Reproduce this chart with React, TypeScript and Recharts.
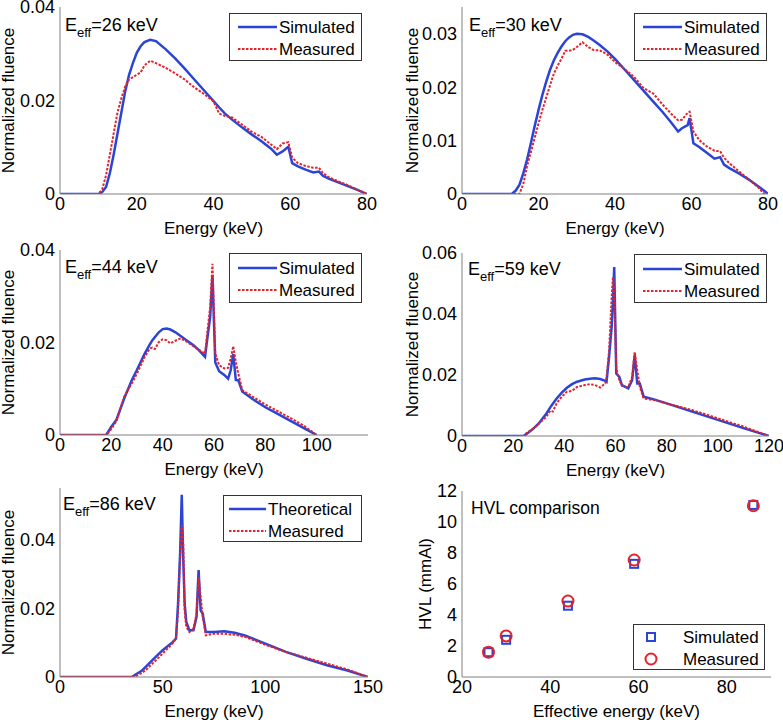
import React from 'react';
import { LineChart, Line, ScatterChart, Scatter, XAxis, YAxis, Legend } from 'recharts';

const FONT = '"Liberation Sans", Arial, Helvetica, sans-serif';
const BLUE = '#2b44d6';
const RED = '#e3232c';
const FRAME = '#808080';

// ---- E_eff = 26 keV ----
const e26 = [0, 10, 11, 12, 13, 14, 15, 16, 17, 18, 19, 20, 21, 22, 23.5, 25, 27.5, 30, 32.5, 35, 37.5, 40, 41.5, 43, 45, 47.5, 50, 52.5, 55, 56.5, 58, 59.5, 60.5, 62, 64, 66, 67.5, 68.5, 70, 72.5, 75, 77.5, 80];
const sim26 = [0, 0, 0.0004, 0.0015, 0.0045, 0.0085, 0.013, 0.0175, 0.022, 0.0255, 0.028, 0.0302, 0.0316, 0.0325, 0.033, 0.0327, 0.031, 0.029, 0.0268, 0.0245, 0.0222, 0.0199, 0.0185, 0.0172, 0.0158, 0.0142, 0.0127, 0.0113, 0.0097, 0.0084, 0.0091, 0.0101, 0.0066, 0.0059, 0.0052, 0.0046, 0.0048, 0.0039, 0.0033, 0.0025, 0.0017, 0.0009, 0];
const meas26 = [0, 0, 0.001, 0.004, 0.0085, 0.013, 0.0175, 0.0205, 0.023, 0.0245, 0.025, 0.0255, 0.026, 0.0275, 0.0285, 0.028, 0.027, 0.0258, 0.0245, 0.0228, 0.0214, 0.0198, 0.0172, 0.0167, 0.0163, 0.0148, 0.0133, 0.0122, 0.0106, 0.0096, 0.0108, 0.0111, 0.0078, 0.0066, 0.006, 0.0056, 0.0056, 0.0045, 0.0036, 0.0027, 0.0019, 0.0009, 0];

// ---- E_eff = 30 keV ----
const e30 = [0, 13, 14, 15, 16, 17, 18, 19, 20, 21, 22, 23, 24, 25, 26, 27, 28, 29, 30, 31.5, 33, 34.5, 36, 38, 40, 42.5, 45, 47.5, 50, 52.5, 55, 56.5, 57.5, 59, 59.5, 60.5, 62, 64, 66, 67.5, 68.5, 70, 72.5, 75, 77.5, 79, 80];
const sim30 = [0, 0, 0.0006, 0.0017, 0.0038, 0.0064, 0.0095, 0.0127, 0.0157, 0.0185, 0.021, 0.0232, 0.025, 0.0264, 0.0276, 0.0286, 0.0293, 0.0298, 0.03, 0.0299, 0.0294, 0.0287, 0.0279, 0.0267, 0.0253, 0.0233, 0.0213, 0.0193, 0.0173, 0.0153, 0.0131, 0.0117, 0.0123, 0.0129, 0.0142, 0.0095, 0.0088, 0.0077, 0.0066, 0.0069, 0.0055, 0.0048, 0.0038, 0.0027, 0.0014, 0.0006, 0];
const meas30 = [0, 0, 0, 0, 0.0018, 0.0052, 0.0078, 0.0105, 0.0132, 0.0157, 0.018, 0.0203, 0.0225, 0.024, 0.0253, 0.0268, 0.0268, 0.027, 0.0275, 0.0284, 0.0275, 0.0269, 0.0269, 0.0261, 0.0247, 0.0234, 0.0219, 0.0198, 0.0188, 0.0167, 0.0148, 0.0138, 0.0139, 0.0152, 0.0154, 0.0117, 0.0101, 0.0089, 0.0081, 0.008, 0.0068, 0.0057, 0.0042, 0.0027, 0.0012, 0, 0];

// ---- E_eff = 44 keV ----
const e44 = [0, 18, 20, 22, 25, 28, 30, 33, 35, 36, 37, 38.5, 40, 41.5, 43, 45, 47, 49, 52, 54, 56.5, 57.5, 58.5, 59.4, 60.5, 62, 64, 65.5, 66.5, 67.5, 68.5, 69.5, 71, 75, 80, 85, 90, 95, 100];
const sim44 = [0, 0, 0.0018, 0.0033, 0.0079, 0.0119, 0.0141, 0.0176, 0.0196, 0.0205, 0.0212, 0.0222, 0.0229, 0.023, 0.0228, 0.0222, 0.0214, 0.0206, 0.0194, 0.0184, 0.0169, 0.0213, 0.0255, 0.0345, 0.0157, 0.0138, 0.013, 0.0122, 0.014, 0.0175, 0.0119, 0.0118, 0.0094, 0.0078, 0.006, 0.0045, 0.003, 0.0015, 0];
const meas44 = [0, 0, 0.0013, 0.003, 0.0083, 0.0112, 0.0133, 0.0169, 0.0187, 0.0189, 0.0186, 0.0201, 0.0207, 0.0205, 0.0198, 0.0204, 0.0209, 0.0203, 0.0192, 0.0185, 0.0176, 0.0227, 0.0277, 0.037, 0.0176, 0.0151, 0.0144, 0.0145, 0.0165, 0.0192, 0.0158, 0.0132, 0.0097, 0.0083, 0.0066, 0.0051, 0.0036, 0.002, 0];

// ---- E_eff = 59 keV ----
const e59 = [0, 24, 25, 28, 30, 33, 34.5, 35.5, 37, 39, 41, 43, 45, 48, 50, 52, 54, 56, 56.5, 57.5, 58.5, 59, 59.5, 60.3, 61.5, 62.5, 64, 65, 66.5, 67.5, 68.5, 69.5, 71, 75, 80, 90, 100, 110, 120];
const sim59 = [0, 0, 0.0005, 0.0025, 0.0041, 0.0074, 0.0094, 0.0106, 0.0123, 0.0142, 0.0158, 0.017, 0.0178, 0.0185, 0.0188, 0.0189, 0.0187, 0.0181, 0.0178, 0.026, 0.0358, 0.044, 0.0554, 0.0205, 0.0194, 0.0167, 0.016, 0.0156, 0.0183, 0.0265, 0.0172, 0.0172, 0.0129, 0.012, 0.0107, 0.008, 0.0053, 0.0026, 0];
const meas59 = [0, 0, 0.0008, 0.0025, 0.004, 0.0063, 0.0083, 0.008, 0.0107, 0.0129, 0.0145, 0.0148, 0.0161, 0.0167, 0.017, 0.0167, 0.0159, 0.0172, 0.019, 0.028, 0.0456, 0.0521, 0.047, 0.022, 0.0183, 0.0165, 0.0161, 0.0161, 0.0194, 0.0276, 0.0216, 0.0161, 0.0123, 0.0118, 0.0107, 0.0085, 0.0058, 0.0031, 0];

// ---- E_eff = 86 keV ----
const e86 = [0, 35, 37, 40, 42, 45, 50, 55, 56.5, 57.5, 58.5, 59.3, 60, 60.7, 61.5, 63, 65, 66.5, 67.5, 68.5, 69.5, 71, 75, 80, 85, 90, 100, 110, 120, 130, 140, 150];
const theo86 = [0, 0, 0.0008, 0.0019, 0.0031, 0.0049, 0.0078, 0.0102, 0.0112, 0.0214, 0.036, 0.053, 0.035, 0.0214, 0.016, 0.0136, 0.0136, 0.0175, 0.0311, 0.0194, 0.0184, 0.0131, 0.0131, 0.0133, 0.0129, 0.0121, 0.0097, 0.0073, 0.0053, 0.0034, 0.0019, 0];
const meas86 = [0, 0, 0.0003, 0.0012, 0.0021, 0.0039, 0.0068, 0.0099, 0.0112, 0.0194, 0.035, 0.0442, 0.0388, 0.0194, 0.0146, 0.0131, 0.0141, 0.0184, 0.0291, 0.0233, 0.0175, 0.0121, 0.0126, 0.0126, 0.0123, 0.0117, 0.0094, 0.0073, 0.0056, 0.0039, 0.0022, 0];

// ---- HVL comparison ----
const hvlEnergy = [26, 30, 44, 59, 86];
const hvlSim = [1.6, 2.4, 4.6, 7.3, 11.1];
const hvlMeas = [1.6, 2.65, 4.9, 7.55, 11.05];

// ticks (all tick marks) and the ones that carry a label
const ticks80 = [0, 10, 20, 30, 40, 50, 60, 70, 80];
const labels80 = [0, 20, 40, 60, 80];
const ticks120 = [0, 10, 20, 30, 40, 50, 60, 70, 80, 90, 100, 110, 120];
const labels100 = [0, 20, 40, 60, 80, 100];
const labels120 = [0, 20, 40, 60, 80, 100, 120];
const ticks150 = [0, 10, 20, 30, 40, 50, 60, 70, 80, 90, 100, 110, 120, 130, 140, 150];
const labels150 = [0, 50, 100, 150];
const ticksY04 = [0, 0.01, 0.02, 0.03, 0.04];
const labelsY04 = [0, 0.02, 0.04];
const ticksY035 = [0, 0.005, 0.01, 0.015, 0.02, 0.025, 0.03, 0.035];
const labelsY035 = [0, 0.01, 0.02, 0.03];
const ticksY06 = [0, 0.01, 0.02, 0.03, 0.04, 0.05, 0.06];
const labelsY06 = [0, 0.02, 0.04, 0.06];
const ticksY055 = [0, 0.01, 0.02, 0.03, 0.04, 0.05];
const hvlTicksX = [20, 30, 40, 50, 60, 70, 80, 90];
const hvlLabelsX = [20, 40, 60, 80];
const hvlTicksY = [0, 1, 2, 3, 4, 5, 6, 7, 8, 9, 10, 11, 12];
const hvlLabelsY = [0, 2, 4, 6, 8, 10, 12];

const rows = (e: number[], a: number[], b: number[]) => e.map((v, i) => ({ e: v, a: a[i], b: b[i] }));
const points = (x: number[], y: number[]) => x.map((v, i) => ({ x: v, y: y[i] }));

const only = (labels: number[]) => (v: number) => (labels.some((l) => Math.abs(l - v) < 1e-9) ? String(v) : '');

const tickText = { fill: '#000', fontSize: 18, fontFamily: FONT };

type Item = { name: string; kind: 'solid' | 'dash' | 'square' | 'circle' };

const legendBox = (items: Item[], sample: [number, number], textX: number, rowY: number[]) => () => (
  <div style={{ position: 'relative', width: '100%', height: '100%', boxSizing: 'border-box', border: '1px solid #333', background: '#fff' }}>
    <svg width="100%" height="100%" style={{ position: 'absolute', left: 0, top: 0 }}>
      {items.map((it, i) => {
        const y = rowY[i];
        const mid = (sample[0] + sample[1]) / 2;
        return (
          <g key={it.name}>
            {it.kind === 'solid' && <line x1={sample[0]} x2={sample[1]} y1={y} y2={y} stroke={BLUE} strokeWidth={2.5} />}
            {it.kind === 'dash' && <line x1={sample[0]} x2={sample[1]} y1={y} y2={y} stroke={RED} strokeWidth={2} strokeDasharray="2.5 1.5" />}
            {it.kind === 'square' && <rect x={mid - 4} y={y - 4} width={8} height={8} fill="none" stroke={BLUE} strokeWidth={2} />}
            {it.kind === 'circle' && <circle cx={mid} cy={y} r={5.5} fill="none" stroke={RED} strokeWidth={2} />}
            <text x={textX} y={y} dominantBaseline="central" fontSize={17} fontFamily={FONT} fill="#000">
              {it.name}
            </text>
          </g>
        );
      })}
    </svg>
  </div>
);

type PanelProps = {
  box: { left: number; top: number; width: number; height: number };
  plot: { top: number; right: number; yw: number; xh: number };
  xDomain: [number, number];
  xTicks: number[];
  xLabels: number[];
  yDomain: [number, number];
  yTicks: number[];
  yLabels: number[];
  yName: string;
  yNameX: number;
  xName: string;
  legend: { left: number; top: number; width: number; height: number; items: Item[]; sample: [number, number]; textX: number; rowY: number[] };
  children: React.ReactNode;
  note: React.ReactNode;
  scatter?: boolean;
  data?: any[];
};

function frameAxes(p: PanelProps) {
  return [
    <XAxis key="x" xAxisId="x" type="number" dataKey={p.scatter ? 'x' : 'e'} domain={p.xDomain} ticks={p.xTicks} interval={0} allowDataOverflow tickFormatter={only(p.xLabels)} tickLine={false} tickSize={0} tickMargin={3} height={p.plot.xh} stroke={FRAME} tick={tickText} />,
    <XAxis key="xb" xAxisId="xb" type="number" domain={p.xDomain} ticks={p.xTicks} interval={0} allowDataOverflow mirror height={0} tick={false} tickSize={4} axisLine={false} stroke={FRAME} />,
    <XAxis key="xt" xAxisId="xt" orientation="top" type="number" domain={p.xDomain} ticks={p.xTicks} interval={0} allowDataOverflow mirror height={0} tick={false} tickSize={4} stroke={FRAME} />,
    <YAxis key="y" yAxisId="y" type="number" dataKey={p.scatter ? 'y' : undefined} domain={p.yDomain} ticks={p.yTicks} interval={0} allowDataOverflow tickFormatter={only(p.yLabels)} tickLine={false} tickSize={0} tickMargin={5} width={p.plot.yw} stroke={FRAME} tick={tickText} />,
    <YAxis key="yl" yAxisId="yl" type="number" domain={p.yDomain} ticks={p.yTicks} interval={0} allowDataOverflow mirror width={0} tick={false} tickSize={4} axisLine={false} stroke={FRAME} />,
    <YAxis key="yr" yAxisId="yr" orientation="right" type="number" domain={p.yDomain} ticks={p.yTicks} interval={0} allowDataOverflow mirror width={0} tick={false} tickSize={4} stroke={FRAME} />,
  ];
}

function Panel(p: PanelProps) {
  const lg = p.legend;
  const margin = { top: p.plot.top, right: p.plot.right, bottom: 0, left: 0 };
  const plotLeft = p.plot.yw;
  const plotRight = p.box.width - p.plot.right;
  const plotBottom = p.box.height - p.plot.xh;
  const yMid = (p.plot.top + plotBottom) / 2;
  const legend = (
    <Legend
      layout="horizontal"
      verticalAlign="middle"
      align="center"
      content={legendBox(lg.items, lg.sample, lg.textX, lg.rowY)}
      wrapperStyle={{ left: lg.left, top: lg.top, width: lg.width, height: lg.height, margin: 0, padding: 0 }}
    />
  );
  return (
    <div style={{ position: 'absolute', left: p.box.left, top: p.box.top, width: p.box.width, height: p.box.height }}>
      {p.scatter ? (
        <ScatterChart width={p.box.width} height={p.box.height} margin={margin}>
          {frameAxes(p)}
          {p.children}
          {legend}
        </ScatterChart>
      ) : (
        <LineChart width={p.box.width} height={p.box.height} margin={margin} data={p.data}>
          {frameAxes(p)}
          {p.children}
          {legend}
        </LineChart>
      )}
      <svg width={p.box.width} height={p.box.height} style={{ position: 'absolute', left: 0, top: 0, pointerEvents: 'none' }}>
        {p.note}
        <text x={(plotLeft + plotRight) / 2} y={plotBottom + 34} textAnchor="middle" dominantBaseline="central" fontSize={17} fontFamily={FONT} fill="#000">
          {p.xName}
        </text>
        <text x={p.yNameX} y={yMid} transform={`rotate(-90 ${p.yNameX} ${yMid})`} textAnchor="middle" dominantBaseline="central" fontSize={17} fontFamily={FONT} fill="#000">
          {p.yName}
        </text>
      </svg>
    </div>
  );
}

const effNote = (x: number, y: number, value: string) => (
  <text x={x} y={y} fontSize={18} fontFamily={FONT} fill="#000">
    E
    <tspan dy={6} fontSize={13}>
      eff
    </tspan>
    <tspan dy={-6}>{`=${value} keV`}</tspan>
  </text>
);

const spectrumLines = (first: string) => [
  <Line key="a" xAxisId="x" yAxisId="y" type="linear" dataKey="a" name={first} stroke={BLUE} strokeWidth={2.5} dot={false} isAnimationActive={false} />,
  <Line key="b" xAxisId="x" yAxisId="y" type="linear" dataKey="b" name="Measured" stroke={RED} strokeWidth={2} strokeDasharray="2.5 1.5" dot={false} isAnimationActive={false} />,
];

const simItems: Item[] = [
  { name: 'Simulated', kind: 'solid' },
  { name: 'Measured', kind: 'dash' },
];
const theoItems: Item[] = [
  { name: 'Theoretical', kind: 'solid' },
  { name: 'Measured', kind: 'dash' },
];
const hvlItems: Item[] = [
  { name: 'Simulated', kind: 'square' },
  { name: 'Measured', kind: 'circle' },
];

export default function App() {
  return (
    <div style={{ position: 'absolute', left: 0, top: 0, width: 783, height: 720, background: '#fff', overflow: 'hidden' }}>
      <Panel
        box={{ left: 0, top: 0, width: 392, height: 240 }}
        plot={{ top: 7, right: 25, yw: 60, xh: 46 }}
        xDomain={[0, 80]} xTicks={ticks80} xLabels={labels80}
        yDomain={[0, 0.04]} yTicks={ticksY04} yLabels={labelsY04}
        yName="Normalized fluence" yNameX={8} xName="Energy (keV)"
        legend={{ left: 229, top: 13, width: 133, height: 48, items: simItems, sample: [8, 47], textX: 49, rowY: [13, 35] }}
        data={rows(e26, sim26, meas26)}
        note={effNote(65, 31, '26')}
      >
        {spectrumLines('Simulated')}
      </Panel>
      <Panel
        box={{ left: 392, top: 0, width: 391, height: 240 }}
        plot={{ top: 7, right: 15, yw: 70, xh: 46 }}
        xDomain={[0, 80]} xTicks={ticks80} xLabels={labels80}
        yDomain={[0, 0.035]} yTicks={ticksY035} yLabels={labelsY035}
        yName="Normalized fluence" yNameX={20} xName="Energy (keV)"
        legend={{ left: 242, top: 13, width: 133, height: 48, items: simItems, sample: [8, 47], textX: 49, rowY: [13, 35] }}
        data={rows(e30, sim30, meas30)}
        note={effNote(77, 31, '30')}
      >
        {spectrumLines('Simulated')}
      </Panel>
      <Panel
        box={{ left: 0, top: 240, width: 392, height: 238 }}
        plot={{ top: 10, right: 24, yw: 60, xh: 43 }}
        xDomain={[0, 120]} xTicks={ticks120} xLabels={labels100}
        yDomain={[0, 0.04]} yTicks={ticksY04} yLabels={labelsY04}
        yName="Normalized fluence" yNameX={8} xName="Energy (keV)"
        legend={{ left: 229, top: 13, width: 133, height: 50, items: simItems, sample: [8, 47], textX: 49, rowY: [14, 36] }}
        data={rows(e44, sim44, meas44)}
        note={effNote(65, 33, '44')}
      >
        {spectrumLines('Simulated')}
      </Panel>
      <Panel
        box={{ left: 392, top: 240, width: 391, height: 238 }}
        plot={{ top: 13, right: 14, yw: 70, xh: 42 }}
        xDomain={[0, 120]} xTicks={ticks120} xLabels={labels120}
        yDomain={[0, 0.06]} yTicks={ticksY06} yLabels={labelsY06}
        yName="Normalized fluence" yNameX={20} xName="Energy (keV)"
        legend={{ left: 242, top: 14, width: 133, height: 49, items: simItems, sample: [8, 47], textX: 49, rowY: [14, 36] }}
        data={rows(e59, sim59, meas59)}
        note={effNote(76, 35, '59')}
      >
        {spectrumLines('Simulated')}
      </Panel>
      <Panel
        box={{ left: 0, top: 478, width: 392, height: 242 }}
        plot={{ top: 10, right: 24, yw: 60, xh: 43 }}
        xDomain={[0, 150]} xTicks={ticks150} xLabels={labels150}
        yDomain={[0, 0.055]} yTicks={ticksY055} yLabels={labelsY04}
        yName="Normalized fluence" yNameX={8} xName="Energy (keV)"
        legend={{ left: 223, top: 17, width: 139, height: 47, items: theoItems, sample: [5, 42], textX: 44, rowY: [13, 35] }}
        data={rows(e86, theo86, meas86)}
        note={effNote(63, 32, '86')}
      >
        {spectrumLines('Theoretical')}
      </Panel>
      <Panel
        scatter
        box={{ left: 392, top: 478, width: 391, height: 242 }}
        plot={{ top: 13, right: 12, yw: 70, xh: 43 }}
        xDomain={[20, 90]} xTicks={hvlTicksX} xLabels={hvlLabelsX}
        yDomain={[0, 12]} yTicks={hvlTicksY} yLabels={hvlLabelsY}
        yName="HVL (mmAl)" yNameX={33} xName="Effective energy (keV)"
        legend={{ left: 241, top: 146, width: 132, height: 46, items: hvlItems, sample: [14, 20], textX: 49, rowY: [12, 34] }}
        note={
          <text x={79} y={36} fontSize={17.5} fontFamily={FONT} fill="#000">
            HVL comparison
          </text>
        }
      >
        <Scatter
          xAxisId="x" yAxisId="y" name="Simulated" data={points(hvlEnergy, hvlSim)} isAnimationActive={false}
          shape={(s: any) => <rect x={s.cx - 4} y={s.cy - 4} width={8} height={8} fill="none" stroke={BLUE} strokeWidth={2} />}
        />
        <Scatter
          xAxisId="x" yAxisId="y" name="Measured" data={points(hvlEnergy, hvlMeas)} isAnimationActive={false}
          shape={(s: any) => <circle cx={s.cx} cy={s.cy} r={5.5} fill="none" stroke={RED} strokeWidth={2} />}
        />
      </Panel>
    </div>
  );
}
